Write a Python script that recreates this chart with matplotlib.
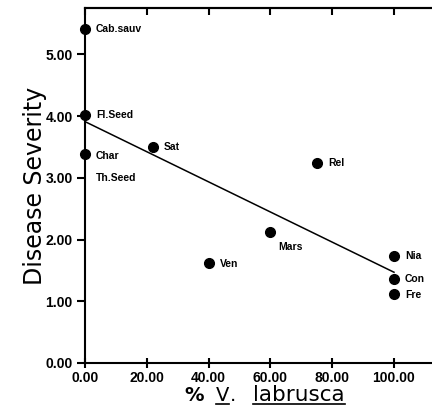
import matplotlib
matplotlib.use("Agg")
import matplotlib.pyplot as plt
from matplotlib.lines import Line2D

names = ["Cab.sauv", "Fl.Seed", "Char", "Sat", "Rel", "Mars", "Ven", "Nia", "Con", "Fre"]
labrusca = [0, 0, 0, 22, 75, 60, 40, 100, 100, 100]
severity = [5.41, 4.02, 3.39, 3.50, 3.24, 2.12, 1.62, 1.73, 1.36, 1.12]
label_offsets = {"Cab.sauv": (8, 0), "Fl.Seed": (8, 0), "Char": (8, -2), "Sat": (8, 0),
                 "Rel": (8, 0), "Mars": (6, -11), "Ven": (8, -1), "Nia": (8, 0),
                 "Con": (8, 0), "Fre": (8, -1)}
extra_label = ("Th.Seed", 0, 3.0)
fit_x = [0, 100]
fit_y = [3.91, 1.47]
xticks = [0, 20, 40, 60, 80, 100]
yticks = [0, 1, 2, 3, 4, 5]
xlabel_parts = [("%", False), ("V", True), (".", False), ("labrusca", True)]

plt.rcParams['font.family'] = ['Liberation Sans', 'DejaVu Sans']

fig = plt.figure(figsize=(4.32, 4.08), dpi=100)
ax = fig.add_axes([85/432, 45/408, 347/432, 355/408])
ax.set_xlim(0, 112.3)
ax.set_ylim(0, 5.75)

ax.plot(fit_x, fit_y, color='black', lw=1.1, zorder=2)
ax.plot(labrusca, severity, 'o', color='black', ms=7, zorder=3, clip_on=False)
for n, x, y in zip(names, labrusca, severity):
    dx, dy = label_offsets[n]
    ax.annotate(n, (x, y), xytext=(dx, dy), textcoords='offset points',
                fontsize=7.5, fontweight='bold', va='center', ha='left')
ax.annotate(extra_label[0], (extra_label[1], extra_label[2]), xytext=(8, 0),
            textcoords='offset points', fontsize=7.5, fontweight='bold', va='center', ha='left')

ax.spines['right'].set_visible(False)
for s in ['left', 'bottom', 'top']:
    ax.spines[s].set_linewidth(1.5)

ax.set_xticks(xticks)
ax.set_xticklabels([f"{v:.2f}" for v in xticks], fontsize=10, fontweight='bold')
ax.set_yticks(yticks)
ax.set_yticklabels([f"{v:.2f}" for v in yticks], fontsize=10, fontweight='bold')
ax.tick_params(axis='x', which='major', direction='inout', length=7, width=1.5, pad=2)
ax.tick_params(axis='y', direction='out', length=6, width=1.5, pad=3)

top = ax.secondary_xaxis('top')
top.set_xticks(xticks)
top.set_xticklabels([])
top.tick_params(direction='in', length=5, width=1.5)
top.spines['top'].set_linewidth(1.5)

ax.set_ylabel("Disease Severity", fontsize=17, labelpad=-1, family='DejaVu Sans')

# x label built from pieces with underlines
fig.canvas.draw()
renderer = fig.canvas.get_renderer()
W, H = fig.get_size_inches() * fig.dpi
x_px = 184
y_px = 408 - 401  # baseline from bottom in pixels
gaps = [12, 1, 17, 0]
sizes = [14, 14, 14, 15.5]
for (txt, ul), gap, fs in zip(xlabel_parts, gaps, sizes):
    t = fig.text(x_px / W, y_px / H, txt, fontsize=fs, family='DejaVu Sans',
                 ha='left', va='baseline', fontweight='bold' if txt == '%' else 'normal')
    bb = t.get_window_extent(renderer)
    if ul:
        fig.add_artist(Line2D([bb.x0 / W, bb.x1 / W], [(y_px - 2.5) / H, (y_px - 2.5) / H],
                              color='black', lw=1.2, transform=fig.transFigure))
    x_px = bb.x1 + gap

fig.savefig("out.png", dpi=100)
